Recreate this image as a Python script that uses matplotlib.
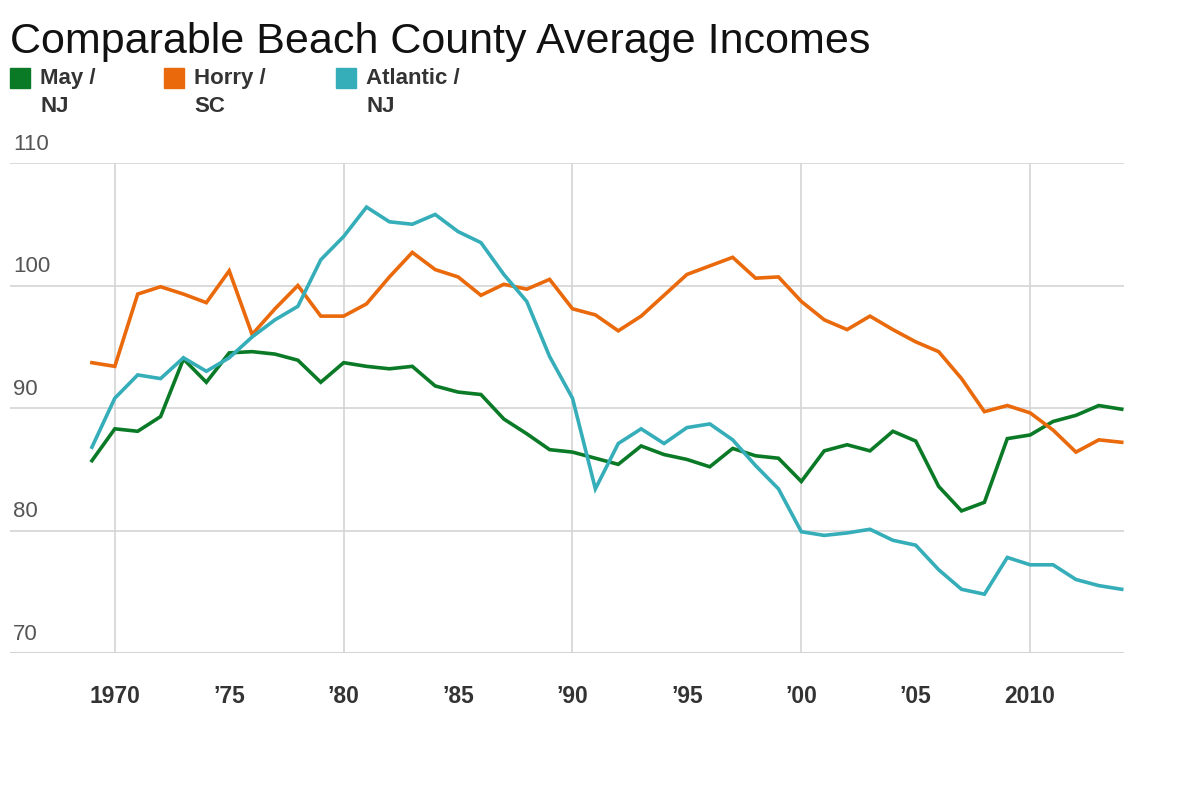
import matplotlib
matplotlib.use("Agg")
import matplotlib.pyplot as plt
from matplotlib.patches import Rectangle

plt.rcParams['font.family'] = ['Liberation Sans', 'DejaVu Sans']

years = list(range(1969, 2015))
may_nj = [85.7, 88.3, 88.1, 89.3, 94.0, 92.1, 94.5, 94.6, 94.4, 93.9,
          92.1, 93.7, 93.4, 93.2, 93.4, 91.8, 91.3, 91.1, 89.1, 87.9,
          86.6, 86.4, 85.9, 85.4, 86.9, 86.2, 85.8, 85.2, 86.7, 86.1,
          85.9, 84.0, 86.5, 87.0, 86.5, 88.1, 87.3, 83.6, 81.6, 82.3,
          87.5, 87.8, 88.9, 89.4, 90.2, 89.9]
horry_sc = [93.7, 93.4, 99.3, 99.9, 99.3, 98.6, 101.2, 96.0, 98.1, 100.0,
            97.5, 97.5, 98.5, 100.7, 102.7, 101.3, 100.7, 99.2, 100.1, 99.7,
            100.5, 98.1, 97.6, 96.3, 97.5, 99.2, 100.9, 101.6, 102.3, 100.6,
            100.7, 98.7, 97.2, 96.4, 97.5, 96.4, 95.4, 94.6, 92.4, 89.7,
            90.2, 89.6, 88.2, 86.4, 87.4, 87.2]
atlantic_nj = [86.8, 90.8, 92.7, 92.4, 94.1, 93.0, 94.1, 95.8, 97.2, 98.3,
               102.1, 104.0, 106.4, 105.2, 105.0, 105.8, 104.4, 103.5, 100.9, 98.7,
               94.2, 90.8, 83.4, 87.1, 88.3, 87.1, 88.4, 88.7, 87.4, 85.3,
               83.4, 79.9, 79.6, 79.8, 80.1, 79.2, 78.8, 76.8, 75.2, 74.8,
               77.8, 77.2, 77.2, 76.0, 75.5, 75.2]

series_names = ["May /\nNJ", "Horry /\nSC", "Atlantic /\nNJ"]
series_colors = ["#0b7a27", "#e9690b", "#35aeb9"]
series_data = [may_nj, horry_sc, atlantic_nj]

xtick_years = [1970, 1975, 1980, 1985, 1990, 1995, 2000, 2005, 2010]
xtick_labels = ["1970", "\u201975", "\u201980", "\u201985", "\u201990",
                "\u201995", "\u201900", "\u201905", "2010"]
ytick_vals = [70, 80, 90, 100, 110]
vgrid_years = [1970, 1980, 1990, 2000, 2010]

W, H = 1200, 800
fig = plt.figure(figsize=(12, 8), dpi=100)
ax_l, ax_r, ax_t, ax_b = 10, 1124, 163, 653
ax = fig.add_axes([ax_l / W, 1 - ax_b / H, (ax_r - ax_l) / W, (ax_b - ax_t) / H])
ax.set_xlim(1965.42, 2014.1)
ax.set_ylim(70, 110)
for s in ax.spines.values():
    s.set_visible(False)
ax.set_yticks([])
ax.set_xticks(xtick_years)
ax.set_xticklabels(xtick_labels, fontsize=16.5, fontweight='bold', color='#333333')
ax.tick_params(axis='x', length=0, pad=23)

for v in ytick_vals:
    ax.axhline(v, color='#d4d4d4', lw=1.5 if v == 70 else 1.2, zorder=1)
    ax.annotate(str(v), xy=(0, v), xycoords=('axes fraction', 'data'),
                xytext=(2, 6), textcoords='offset points',
                ha='left', va='bottom', fontsize=16, color='#555555',
                annotation_clip=False)
for yv in vgrid_years:
    ax.axvline(yv, color='#d4d4d4', lw=1.2, zorder=1)

for data, c in zip(series_data, series_colors):
    ax.plot(years, data, color=c, lw=2.6, zorder=3, solid_joinstyle='miter')

fig.text(10 / W, 1 - 53 / H, "Comparable Beach County Average Incomes",
         fontsize=31, color='#111111', ha='left', va='baseline')

leg_x = [10, 164, 336]
for name, c, lx in zip(series_names, series_colors, leg_x):
    fig.patches.append(Rectangle((lx / W, 1 - 88 / H), 20 / W, 20 / H,
                                 transform=fig.transFigure, color=c))
    fig.text((lx + 30) / W, 1 - 68 / H, name, fontsize=16, fontweight='bold',
             color='#333333', ha='left', va='top', linespacing=1.45)

fig.savefig("out.png", dpi=100, facecolor='white')
